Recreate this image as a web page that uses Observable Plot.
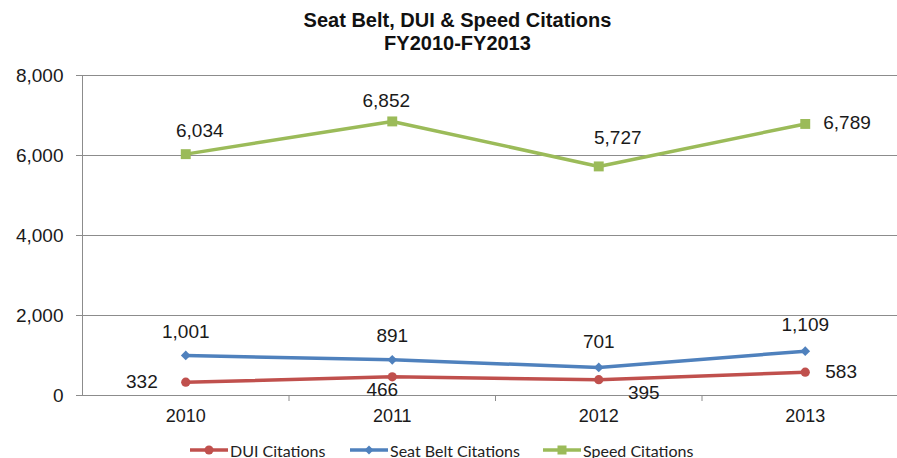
<!DOCTYPE html>
<html><head><meta charset="utf-8">
<script src="https://cdn.jsdelivr.net/npm/d3@7"></script>
<script src="https://cdn.jsdelivr.net/npm/@observablehq/plot@0.6"></script>
<style>
body{margin:0;background:#fff;font-family:"Liberation Sans",Arial,sans-serif;width:897px;overflow:hidden;}
#title{height:60px;box-sizing:border-box;padding-top:9px;padding-left:18px;text-align:center;font-weight:bold;font-size:20px;line-height:23px;color:#111;}
#chart svg{display:block;}
#legend{height:30px;display:flex;align-items:center;padding-left:190px;font-family:Lato,"Liberation Sans",sans-serif;font-size:16px;color:#222;}
.item{display:flex;align-items:center;gap:2px;flex:none;}
.item:nth-child(1){width:160px;}
.item:nth-child(2){width:193px;}
</style></head><body>
<div id="title">Seat Belt, DUI &amp; Speed Citations<br>FY2010-FY2013</div>
<div id="chart"></div>
<div id="legend"></div>
<script>
const years = [2010, 2011, 2012, 2013];
const seriesNames = ["DUI Citations", "Seat Belt Citations", "Speed Citations"];
const duiValues = [332, 466, 395, 583];
const seatBeltValues = [1001, 891, 701, 1109];
const speedValues = [6034, 6852, 5727, 6789];
const yTicks = [0, 2000, 4000, 6000, 8000];

const seriesValues = [duiValues, seatBeltValues, speedValues];
const colors = {"DUI Citations": "#c0504d", "Seat Belt Citations": "#4f81bd", "Speed Citations": "#9bbb59"};
const symbols = {"DUI Citations": "circle", "Seat Belt Citations": "diamond2", "Speed Citations": "square"};
const symbolR = {"DUI Citations": 4.6, "Seat Belt Citations": 4.4, "Speed Citations": 5.6};

const rows = [];
seriesNames.forEach((s, si) => years.forEach((yr, i) => rows.push({series: s, year: yr, value: seriesValues[si][i], i})));

// data-label placement (styling, per series & point)
const placement = {
  "DUI Citations": [{a:"end",dx:-28,dy:0},{a:"middle",dx:-10,dy:13},{a:"middle",dx:45,dy:13},{a:"start",dx:20,dy:0}],
  "Seat Belt Citations": [{a:"middle",dx:0,dy:-24},{a:"middle",dx:0,dy:-24},{a:"middle",dx:0,dy:-26},{a:"middle",dx:0,dy:-26}],
  "Speed Citations": [{a:"middle",dx:14,dy:-23},{a:"middle",dx:-6,dy:-21},{a:"middle",dx:19,dy:-29},{a:"start",dx:18,dy:-1}]
};

const fmt = d3.format(",");
const boundaries = years.slice(0, -1).map(y => y + 0.5);

const marks = [
  Plot.gridY({ticks: yTicks, stroke: "#8c8c8c", strokeOpacity: 1}),
  Plot.frame({anchor: "left", stroke: "#8c8c8c"}),
  Plot.axisY({ticks: yTicks, tickFormat: fmt, tickSize: 6, tickPadding: 13, fontSize: 19, label: null, stroke: "#8c8c8c"}),
  Plot.axisX({ticks: boundaries, tickFormat: () => "", tickSize: 6, label: null, stroke: "#8c8c8c"}),
  Plot.axisX({ticks: years, tickFormat: d => String(d), tickSize: 0, tickPadding: 14, fontSize: 18, label: null}),
];
seriesNames.forEach(s => {
  const data = rows.filter(r => r.series === s);
  marks.push(Plot.line(data, {x: "year", y: "value", stroke: colors[s], strokeWidth: 3.5}));
  marks.push(Plot.dot(data, {x: "year", y: "value", fill: colors[s], stroke: "none", symbol: symbols[s], r: symbolR[s]}));
});
rows.forEach(r => {
  const p = placement[r.series][r.i];
  marks.push(Plot.text([r], {x: "year", y: "value", text: d => fmt(d.value), dx: p.dx, dy: p.dy, textAnchor: p.a, fontSize: 19, fill: "#1a1a1a"}));
});

const chart = Plot.plot({
  width: 897, height: 375,
  marginTop: 15, marginBottom: 40, marginLeft: 82, marginRight: 0,
  style: {fontFamily: "'Liberation Sans', Arial, sans-serif", color: "#1a1a1a", background: "#fff"},
  x: {type: "linear", domain: [years[0] - 0.5, years[years.length - 1] + 0.5], range: [82, 908]},
  y: {domain: [yTicks[0], yTicks[yTicks.length - 1]]},
  marks
});
document.getElementById("chart").appendChild(chart);

const legend = document.getElementById("legend");
seriesNames.forEach(s => {
  const item = document.createElement("div");
  item.className = "item";
  const sym = symbols[s];
  let m;
  if (sym === "circle") m = `<circle cx="19" cy="6" r="4.5" fill="${colors[s]}"/>`;
  else if (sym === "diamond2") m = `<path d="M19 1.5L23.5 6L19 10.5L14.5 6Z" fill="${colors[s]}"/>`;
  else m = `<rect x="14.5" y="1.5" width="9" height="9" fill="${colors[s]}"/>`;
  item.innerHTML = `<svg width="38" height="12"><line x1="0" x2="38" y1="6" y2="6" stroke="${colors[s]}" stroke-width="3.5"/>${m}</svg><span>${s}</span>`;
  legend.appendChild(item);
});
</script>
</body></html>
